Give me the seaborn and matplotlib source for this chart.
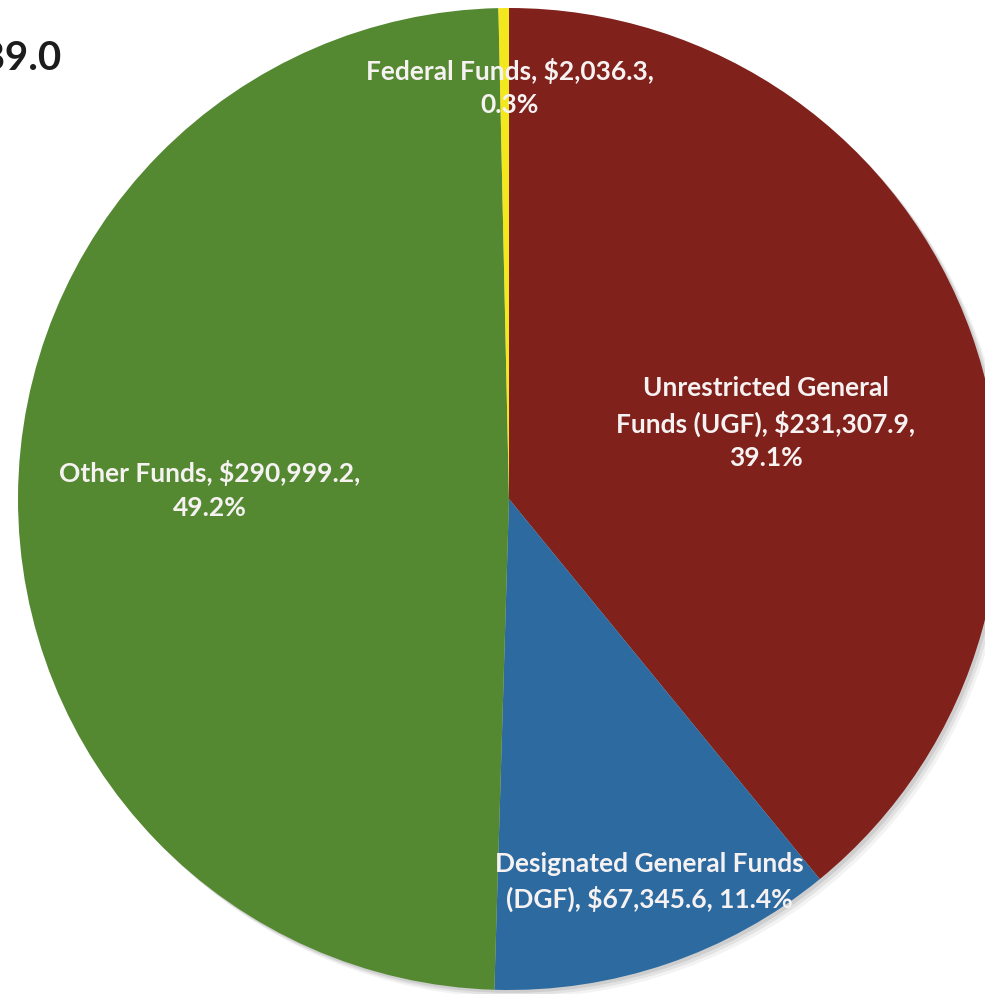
import matplotlib
matplotlib.use("Agg")
import matplotlib.pyplot as plt
from matplotlib.patches import Circle
import seaborn as sns

# data (thousands of $), clockwise from 12 o'clock
categories = ["Unrestricted General Funds (UGF)", "Designated General Funds (DGF)",
              "Other Funds", "Federal Funds"]
values = [231307.9, 67345.6, 290999.2, 2036.3]
colors = ["#80211C", "#2D6AA0", "#548932", "#F3E81E"]
# label layout as the source wraps it
label_fmt = [
    "Unrestricted General\nFunds (UGF), {v},\n{p}",
    "Designated General Funds\n(DGF), {v}, {p}",
    "Other Funds, {v},\n{p}",
    "Federal Funds, {v},\n{p}",
]
total = sum(values)

sns.set_style("white")
plt.rcParams["font.family"] = ["Lato", "DejaVu Sans"]

W, H = 985, 995
cx, cy, R = 509, 500, 491  # pie centre / radius in pixels

fig = plt.figure(figsize=(W / 100, H / 100), dpi=100)
ax = fig.add_axes([0, 0, 1, 1])

# soft drop shadow toward lower right
for off, a in [(0.016, 0.10), (0.011, 0.16), (0.006, 0.22)]:
    ax.add_patch(Circle((off, -off), 1.0, color="#8a8a8a", alpha=a, lw=0, zorder=0))

wedges, _ = ax.pie(values, colors=colors, startangle=90, counterclock=False,
                   radius=1.0, wedgeprops=dict(linewidth=0, zorder=2))

# label centres (pixel coords)
label_pos = [(766, 423), (649, 882), (210, 490), (510, 88)]
for fmt, v, (px, py) in zip(label_fmt, values, label_pos):
    txt = fmt.format(v=f"${v:,.1f}", p=f"{v / total * 100:.1f}%")
    ax.text((px - cx) / R, (cy - py) / R, txt, ha="center", va="center",
            color="#F6F2F2", fontsize=19, fontweight="bold", linespacing=1.45,
            zorder=5)

ax.set_xlim(-cx / R, (W - cx) / R)
ax.set_ylim(-(H - cy) / R, cy / R)
ax.set_aspect("equal")
ax.axis("off")

# title, cut by the page edge in the source
fig.text(62 / W, 1 - 57 / H, f"${total:,.1f}", ha="right", va="center",
         fontsize=29, fontweight="bold", color="#1c1c1c")

fig.savefig("out.png", dpi=100, facecolor="white")
